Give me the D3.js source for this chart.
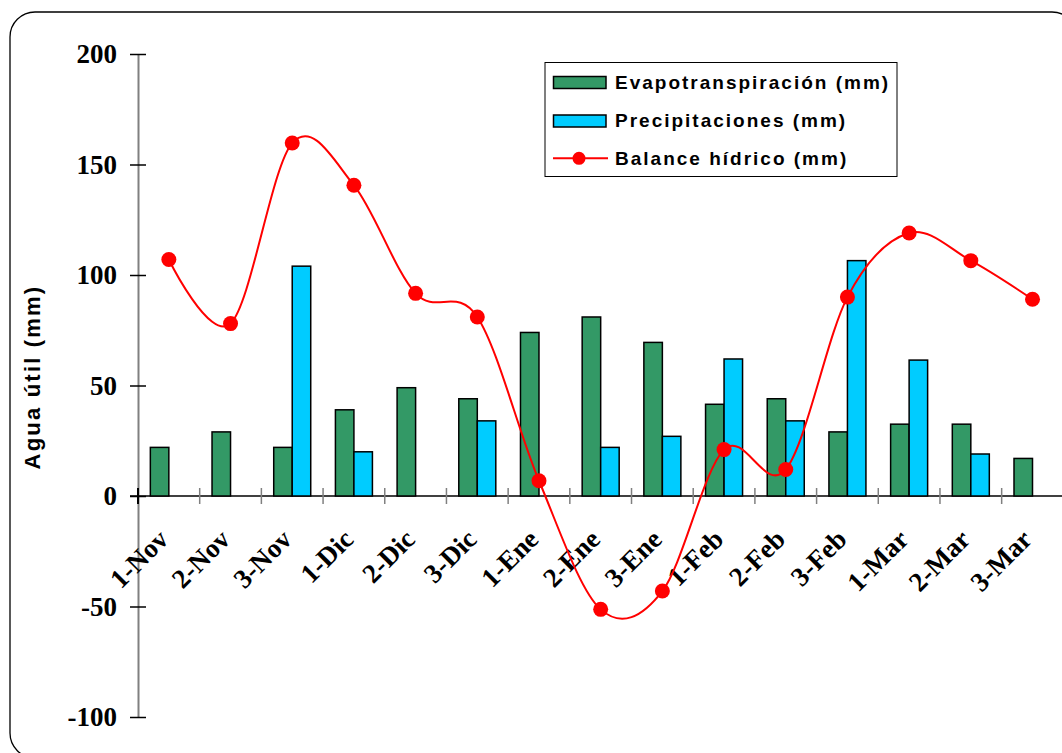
<!DOCTYPE html>
<html><head><meta charset="utf-8">
<script src="https://cdn.jsdelivr.net/npm/d3@7"></script>
<style>
html,body{margin:0;padding:0;background:#fff;}
svg{display:block;}
</style></head>
<body>
<svg id="chart" width="1062" height="753"></svg>
<script>
const categories = ["1-Nov","2-Nov","3-Nov","1-Dic","2-Dic","3-Dic","1-Ene","2-Ene","3-Ene","1-Feb","2-Feb","3-Feb","1-Mar","2-Mar","3-Mar"];
const evapotranspiracion = [22, 29, 22, 39, 49, 44, 74, 81, 69.5, 41.5, 44, 29, 32.5, 32.5, 17];
const precipitaciones = [0, 0, 104, 20, 0, 34, 0, 22, 27, 62, 34, 106.5, 61.5, 19, 0];
const balance = [107, 78, 159.7, 140.6, 91.7, 81, 6.9, -51.3, -43, 21, 12, 90, 119, 106.5, 89];
const yTicks = [200, 150, 100, 50, 0, -50, -100];
const seriesNames = ["Evapotranspiración (mm)", "Precipitaciones (mm)", "Balance hídrico (mm)"];
const yTitle = "Agua útil (mm)";

const svg = d3.select("#chart");
const GREEN = "#339966", BLUE = "#00CCFF", RED = "#FF0000";

// frame
svg.append("rect").attr("x", 10).attr("y", 12).attr("width", 1067).attr("height", 746)
  .attr("rx", 25).attr("ry", 25).attr("fill", "#fff").attr("stroke", "#000").attr("stroke-width", 1.3);

const left = 138, step = 61.69;
const x0 = d3.scaleBand().domain(categories).range([left, left + step * categories.length]).padding(0);
const x1 = d3.scaleBand().domain(["evap", "prec"]).range([0, x0.bandwidth()]).paddingInner(0).paddingOuter(0.667);
const y = d3.scaleLinear().domain([-100, 200]).range([717, 54]);

// Y axis
const yAxis = d3.axisLeft(y).tickValues(yTicks).tickSizeInner(8).tickSizeOuter(0).tickPadding(13).tickFormat(d => String(d));
const gy = svg.append("g").attr("transform", `translate(${left},0)`).call(yAxis);
gy.select(".domain").attr("stroke", "#808080").attr("stroke-width", 2);
gy.selectAll(".tick line").attr("x1", 8).attr("stroke", "#000").attr("stroke-width", 1.5);
gy.selectAll(".tick text").attr("font-family", "'Liberation Serif', 'Times New Roman', serif")
  .attr("font-weight", "bold").attr("font-size", 27).attr("fill", "#000");

// X axis line at 0
const y0 = y(0);
const xr = x0.range();
svg.append("line").attr("x1", left - 8).attr("x2", xr[1] + 2).attr("y1", y0).attr("y2", y0)
  .attr("stroke", "#000").attr("stroke-width", 1.5);
// category boundary ticks
const bounds = categories.map(c => x0(c)).concat([xr[1]]);
svg.append("g").selectAll("line").data(bounds.slice(1)).join("line")
  .attr("x1", d => d).attr("x2", d => d).attr("y1", y0 - 8).attr("y2", y0 + 8)
  .attr("stroke", "#808080").attr("stroke-width", 1.5);
svg.append("line").attr("x1", left).attr("x2", left).attr("y1", y0 - 8).attr("y2", y0 + 8)
  .attr("stroke", "#000").attr("stroke-width", 2);

// x labels
svg.append("g").selectAll("text").data(categories).join("text")
  .attr("transform", d => `translate(${x0(d) + x0.bandwidth() / 2 + 1},541) rotate(-45)`)
  .attr("text-anchor", "end")
  .attr("font-family", "'Liberation Serif', 'Times New Roman', serif")
  .attr("font-weight", "bold").attr("font-size", 27).attr("fill", "#000")
  .text(d => d);

// bars
const barData = [];
categories.forEach((c, i) => {
  barData.push({c, key: "evap", v: evapotranspiracion[i], color: GREEN});
  barData.push({c, key: "prec", v: precipitaciones[i], color: BLUE});
});
svg.append("g").selectAll("rect").data(barData.filter(d => d.v > 0)).join("rect")
  .attr("x", d => x0(d.c) + x1(d.key))
  .attr("width", x1.bandwidth())
  .attr("y", d => y(d.v))
  .attr("height", d => y0 - y(d.v))
  .attr("fill", d => d.color).attr("stroke", "#000").attr("stroke-width", 1.5);

// line
const cx = c => x0(c) + x0.bandwidth() / 2;
const line = d3.line().x((d, i) => cx(categories[i])).y(d => y(d)).curve(d3.curveCardinal.tension(0));
svg.append("path").datum(balance).attr("d", line).attr("fill", "none")
  .attr("stroke", RED).attr("stroke-width", 2);
svg.append("g").selectAll("circle").data(balance).join("circle")
  .attr("cx", (d, i) => cx(categories[i])).attr("cy", d => y(d)).attr("r", 7.5).attr("fill", RED);

// y title
svg.append("text").attr("transform", "translate(40,377) rotate(-90)")
  .attr("text-anchor", "middle")
  .attr("font-family", "'Liberation Sans', Arial, sans-serif").attr("font-weight", "bold")
  .attr("font-size", 22).attr("letter-spacing", 2.2).attr("fill", "#000")
  .text(yTitle);

// legend
const lg = svg.append("g");
lg.append("rect").attr("x", 545).attr("y", 62.5).attr("width", 352).attr("height", 114)
  .attr("fill", "#fff").attr("stroke", "#000").attr("stroke-width", 1);
const rowsY = [82.5, 121, 158.3];
[GREEN, BLUE].forEach((col, i) => {
  lg.append("rect").attr("x", 553.5).attr("y", rowsY[i] - 6).attr("width", 52.5).attr("height", 12)
    .attr("fill", col).attr("stroke", "#000").attr("stroke-width", 1.5);
});
lg.append("line").attr("x1", 553).attr("x2", 608).attr("y1", rowsY[2]).attr("y2", rowsY[2])
  .attr("stroke", RED).attr("stroke-width", 2);
lg.append("circle").attr("cx", 579).attr("cy", rowsY[2]).attr("r", 6.5).attr("fill", RED);
lg.selectAll("text.leg").data(seriesNames).join("text").attr("class", "leg")
  .attr("x", 615).attr("y", (d, i) => [88.5, 126.8, 165][i])
  .attr("font-family", "'Liberation Sans', Arial, sans-serif").attr("font-weight", "bold")
  .attr("font-size", 19).attr("letter-spacing", 2).attr("fill", "#000")
  .text(d => d);
</script>
</body></html>
